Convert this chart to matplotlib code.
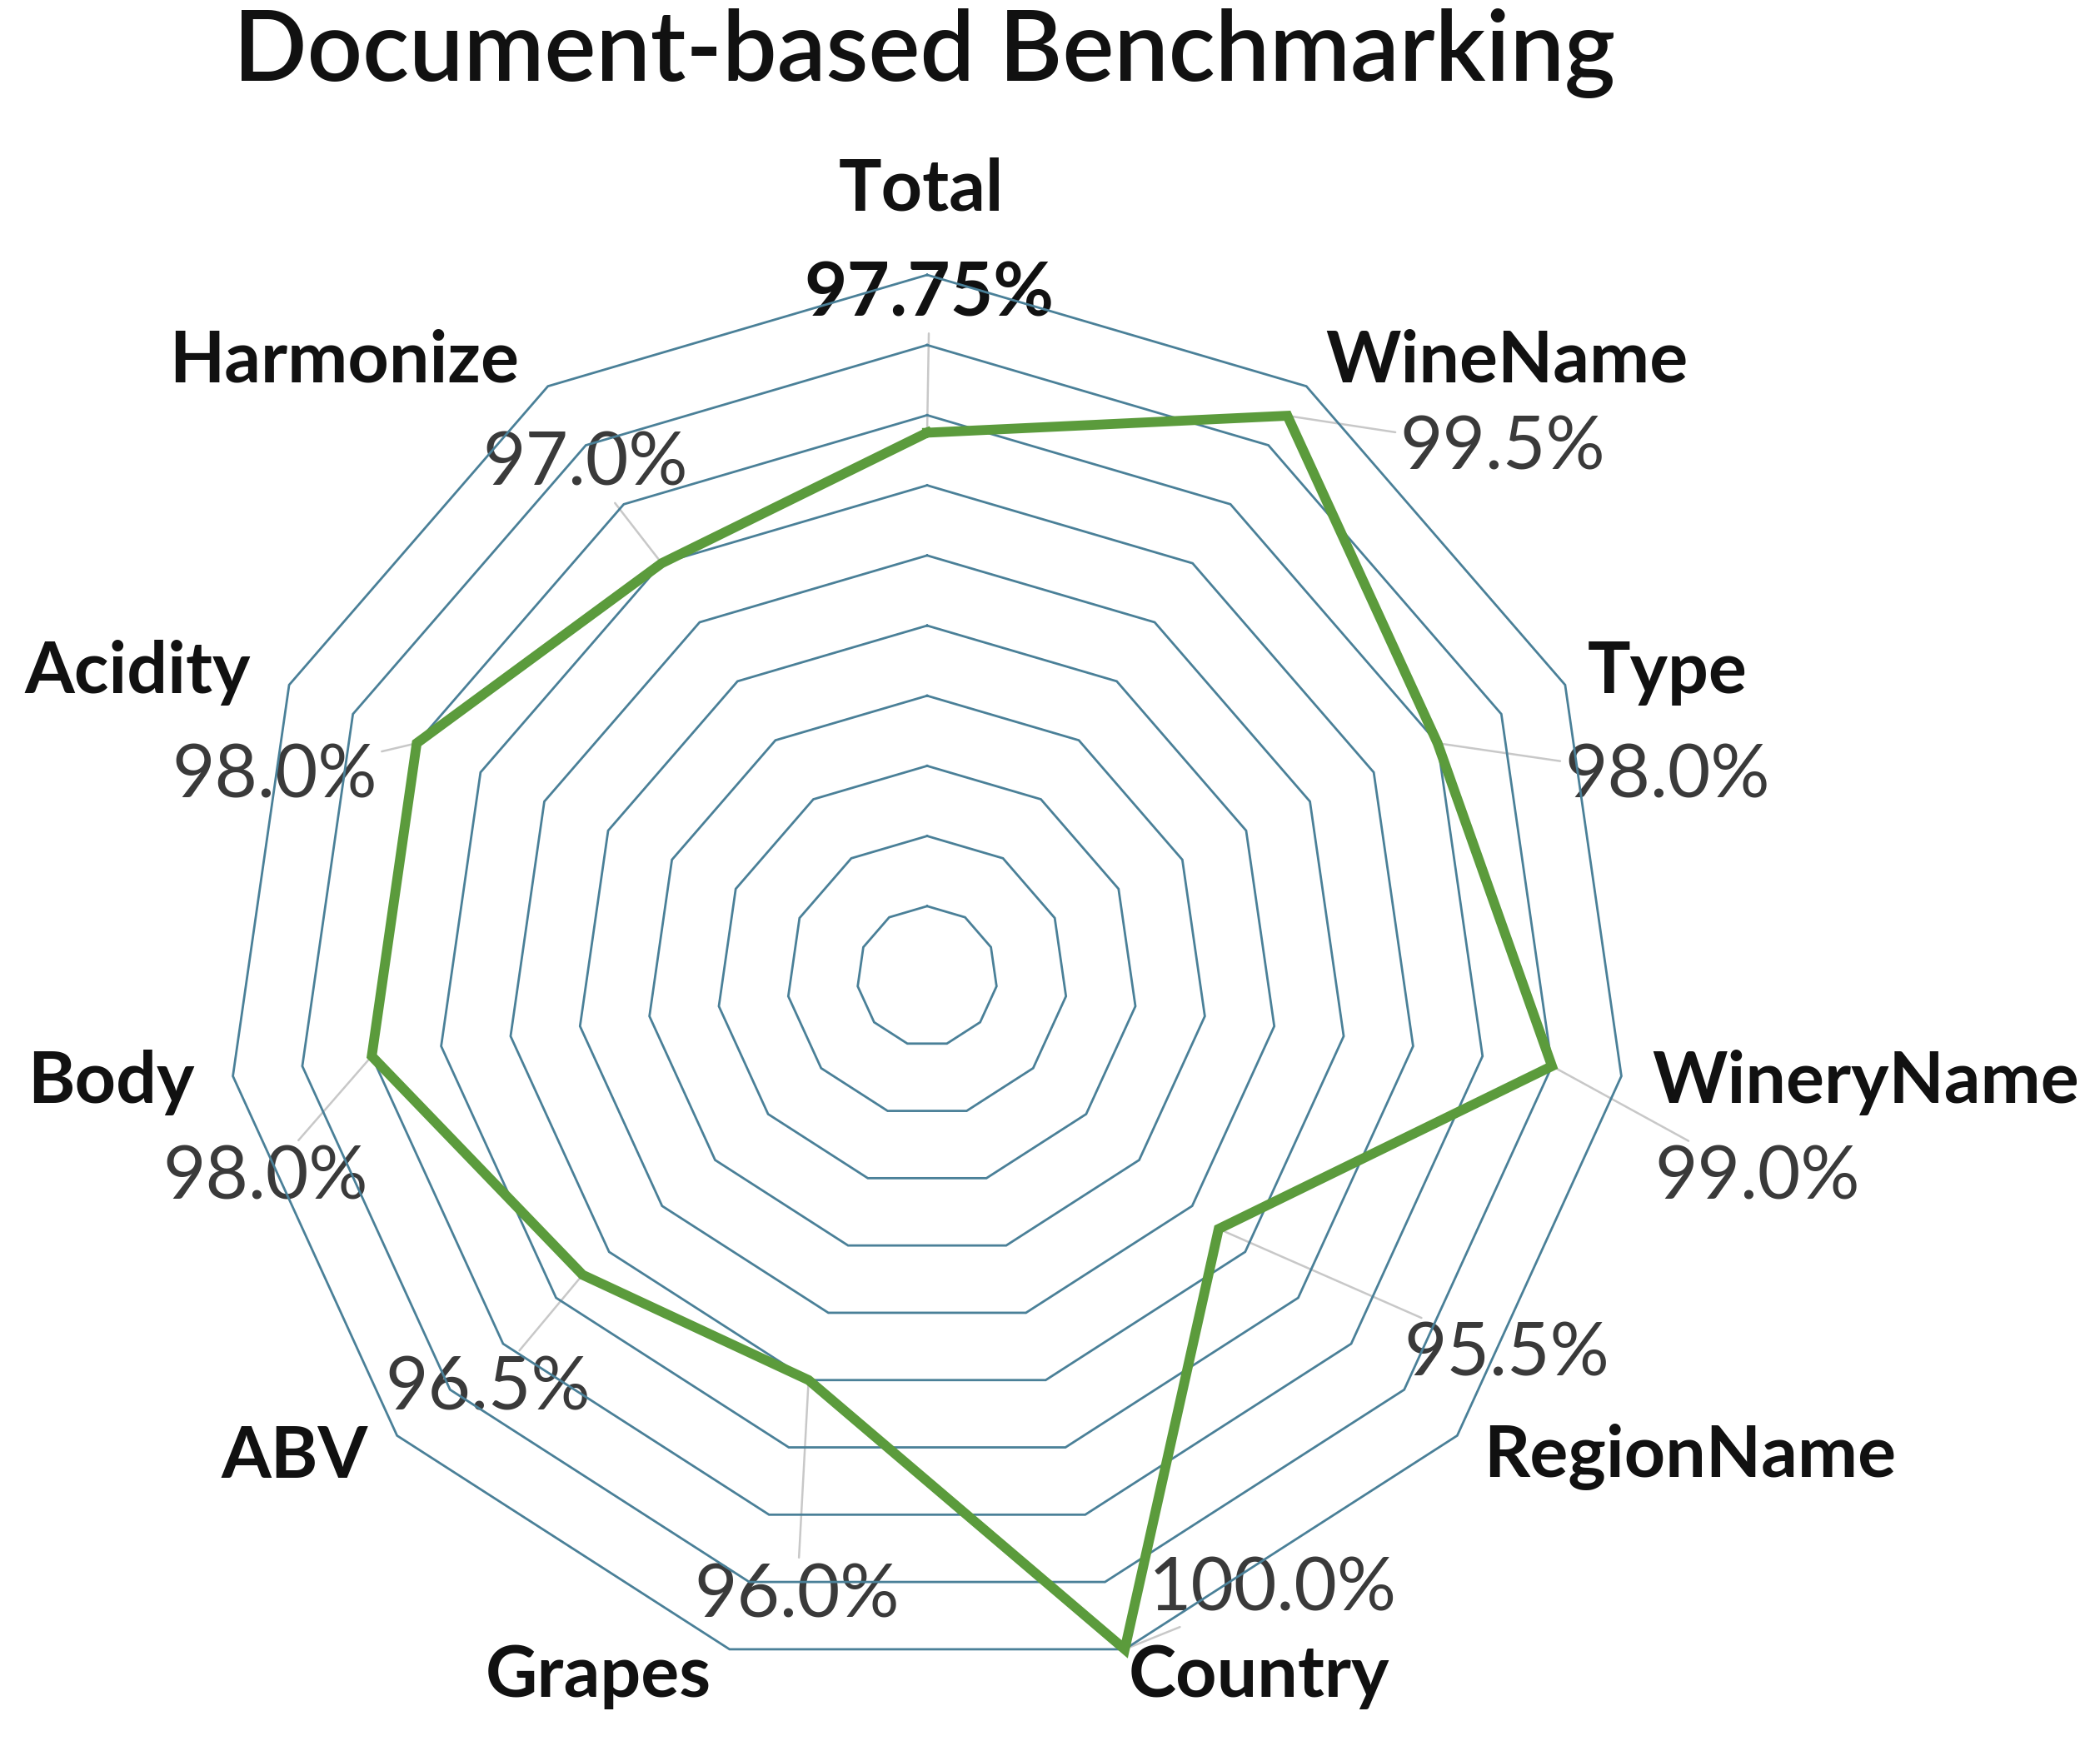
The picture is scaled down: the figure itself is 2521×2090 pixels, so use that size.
import numpy as np
import matplotlib
matplotlib.use("Agg")
import matplotlib.pyplot as plt

# ---------------- data ----------------
categories = ["Total", "WineName", "Type", "WineryName", "RegionName", "Country",
              "Grapes", "ABV", "Body", "Acidity", "Harmonize"]
values = [97.75, 99.5, 98.0, 99.0, 95.5, 100.0, 96.0, 96.5, 98.0, 98.0, 97.0]
value_labels = ["97.75%", "99.5%", "98.0%", "99.0%", "95.5%", "100.0%",
                "96.0%", "96.5%", "98.0%", "98.0%", "97.0%"]
ring_values = [91, 92, 93, 94, 95, 96, 97, 98, 99, 100]
r_min, r_max = 90, 100
title = "Document-based Benchmarking"

# label layout (pixel centres in a 1568x1300 frame)
cat_pos = [(688, 142), (1125, 270), (1245, 502), (1393, 808), (1262, 1088), (940, 1252),
           (447, 1252), (220, 1088), (83, 808), (103, 502), (257, 270)]
val_pos = [(694, 220), (1122, 335), (1245, 580), (1312, 880), (1125, 1012), (950, 1187),
           (595, 1192), (364, 1037), (198, 880), (205, 580), (437, 347)]
FW, FH = 1568.0, 1300.0

FONT = "Lato"
GRID_COLOR = "#4a8098"
LINE_COLOR = "#5b9b3c"
LEADER_COLOR = "#c8c8c8"

fig = plt.figure(figsize=(25.21, 20.90), dpi=100)
fig.patch.set_facecolor("white")

# axes: centre and radius in pixels of the 2521x2090 figure
cx, cy, R = 1113, 1172, 842
ax = fig.add_axes([(cx - R) / 2521, (2090 - cy - R) / 2090, 2 * R / 2521, 2 * R / 2090],
                  projection="polar")
ax.set_theta_zero_location("N")
ax.set_theta_direction(-1)
ax.set_ylim(r_min, r_max)
ax.grid(False)
ax.set_xticks([])
ax.set_yticks([])
ax.spines["polar"].set_visible(False)
ax.patch.set_alpha(0)

n = len(categories)
angles = np.linspace(0, 2 * np.pi, n, endpoint=False)
closed_angles = np.concatenate([angles, angles[:1]])

# polygon grid rings
for rv in ring_values:
    ax.plot(closed_angles, [rv] * (n + 1), color=GRID_COLOR, lw=2.0, zorder=1,
            solid_joinstyle="miter", clip_on=False)

# leader lines + value labels
for i in range(n):
    fx = val_pos[i][0] / FW
    fy = 1 - val_pos[i][1] / FH
    ax.annotate(value_labels[i], xy=(angles[i], values[i]), xytext=(fx, fy),
                textcoords="figure fraction", ha="center", va="center",
                fontsize=64, family=FONT,
                color="#111111" if i == 0 else "#3a3a3a",
                fontweight="bold" if i == 0 else "normal",
                annotation_clip=False, zorder=0,
                arrowprops=dict(arrowstyle="-", color=LEADER_COLOR, lw=1.8,
                                shrinkA=2, shrinkB=0))

# data line
vals_closed = values + values[:1]
ax.plot(closed_angles, vals_closed, color=LINE_COLOR, lw=8.5, zorder=3,
        solid_joinstyle="miter", clip_on=False)

# category labels
for i in range(n):
    fig.text(cat_pos[i][0] / FW, 1 - cat_pos[i][1] / FH, categories[i],
             ha="center", va="center", fontsize=62, family=FONT,
             fontweight="bold", color="#111111")

fig.text(690 / FW, 1 - 40 / FH, title, ha="center", va="center",
         fontsize=84, family=FONT, fontweight="semibold", color="#111111")

fig.savefig("out.png", dpi=100, facecolor="white")
